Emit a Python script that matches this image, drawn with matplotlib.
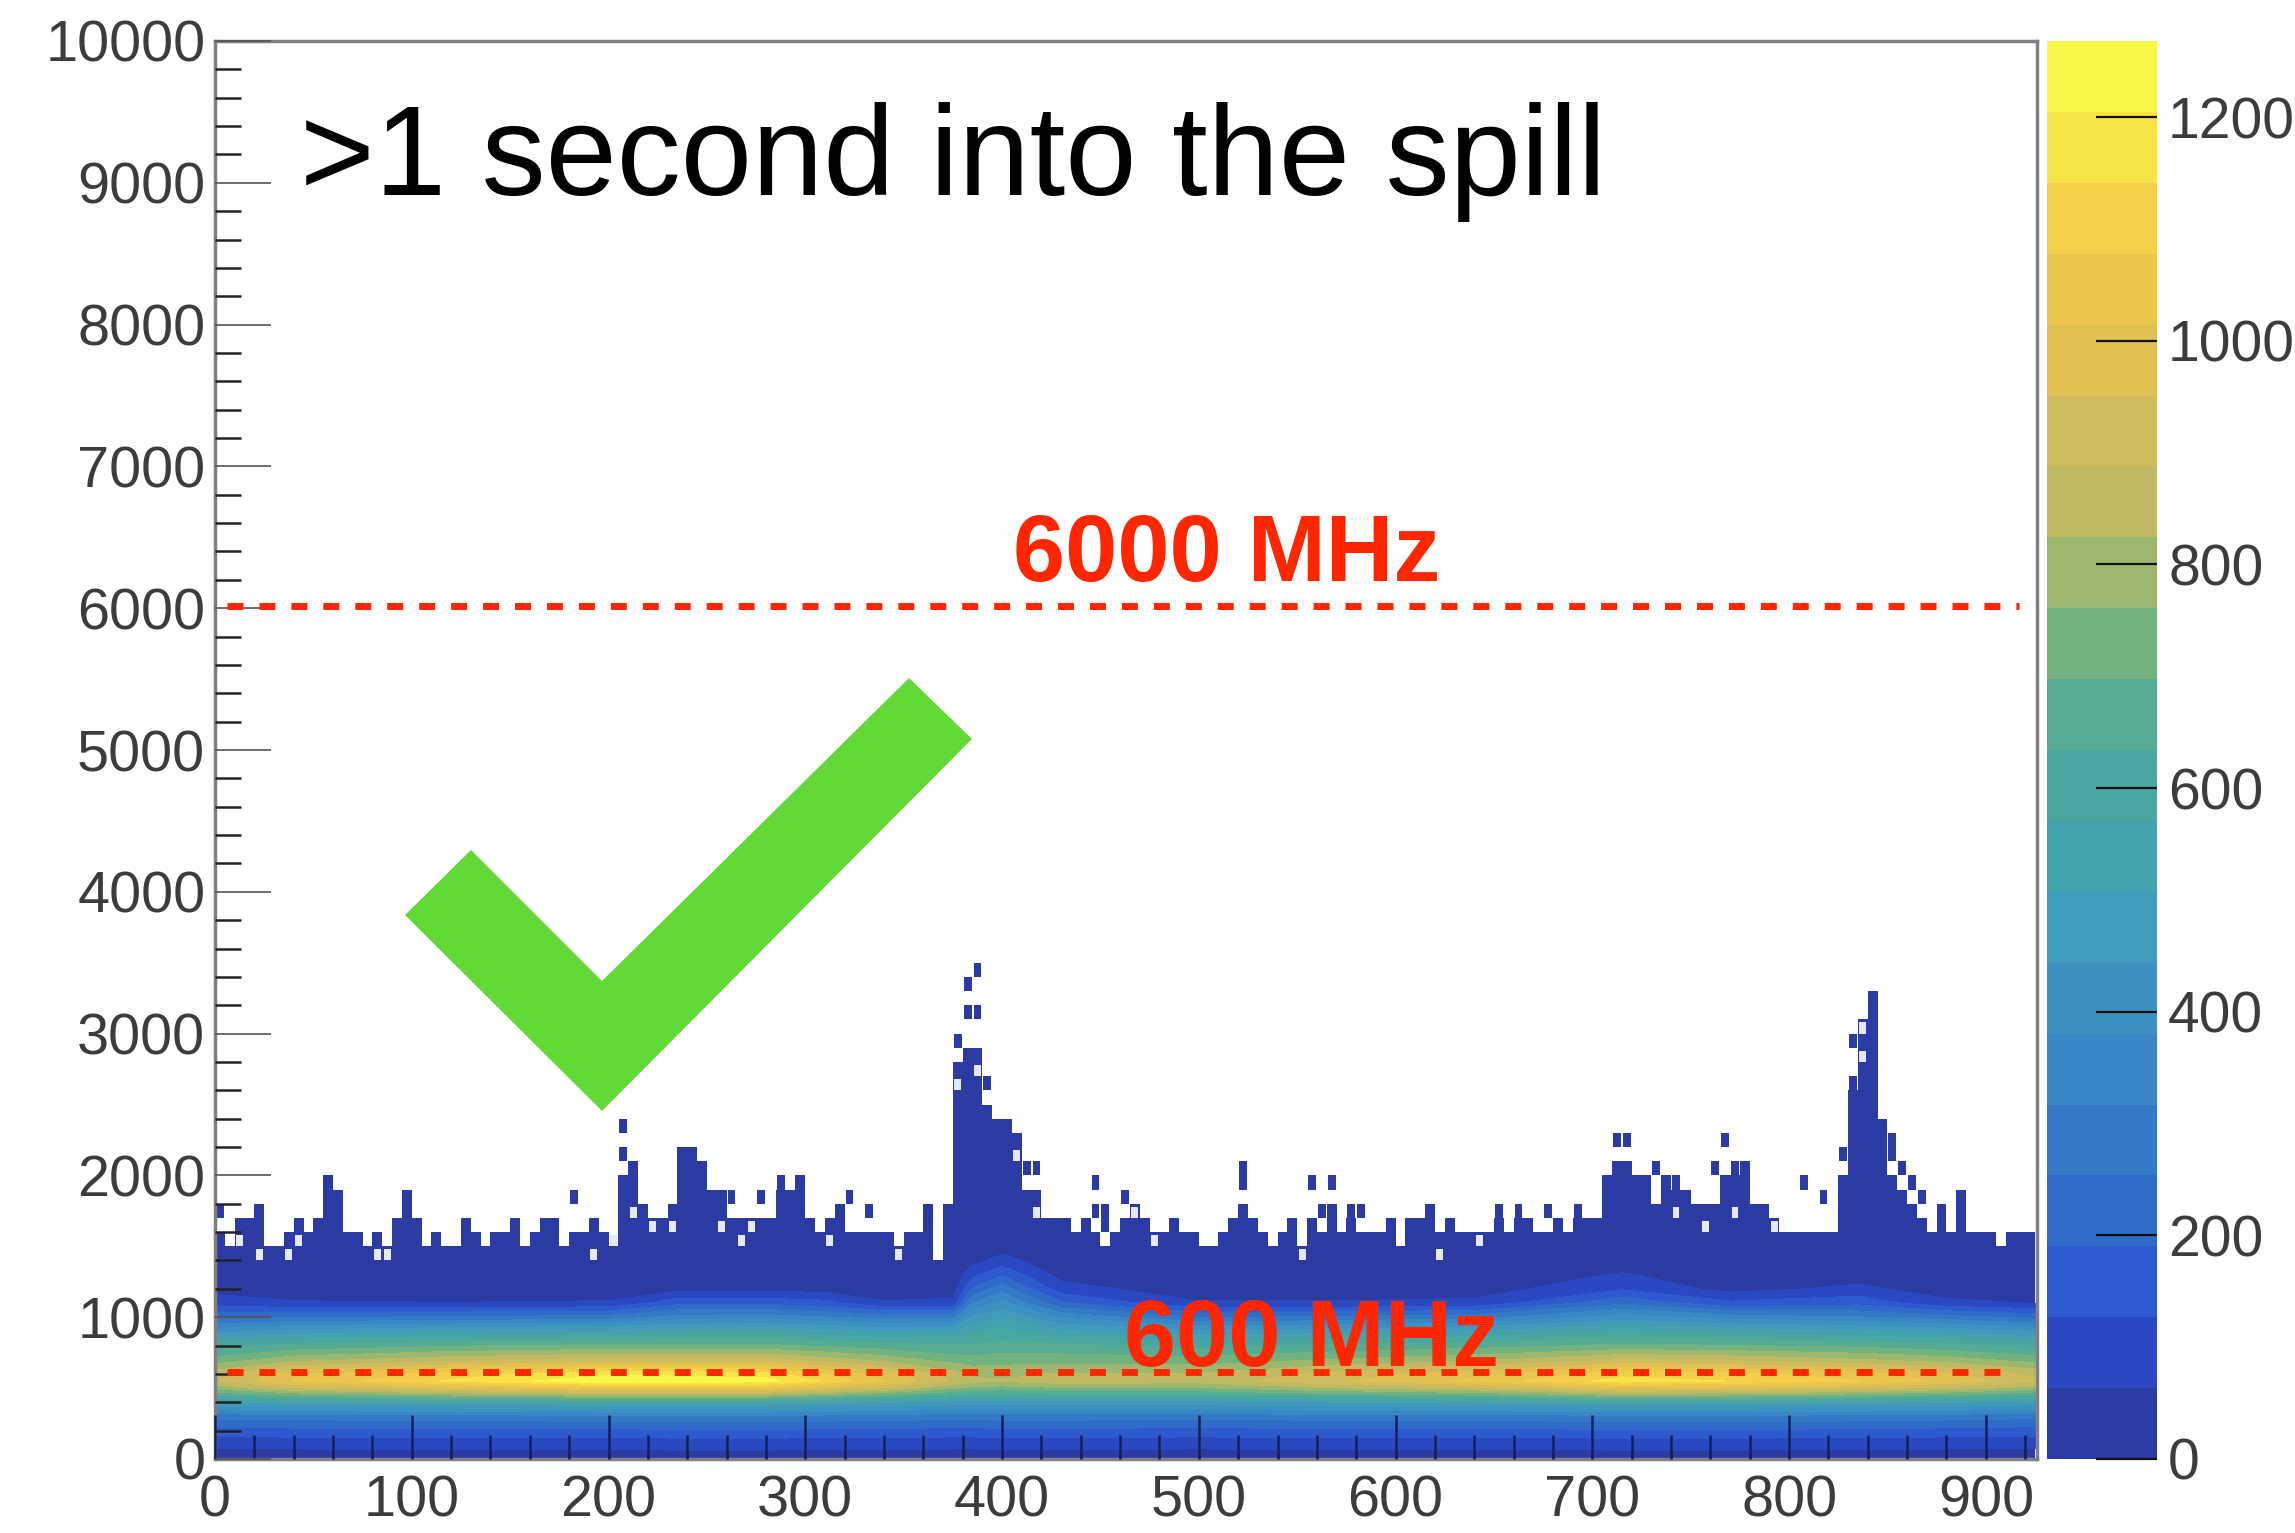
import numpy as np
import matplotlib
matplotlib.use("Agg")
import matplotlib.pyplot as plt
from matplotlib.cm import ScalarMappable
from matplotlib.colors import BoundaryNorm, ListedColormap
from matplotlib.patches import Polygon
from matplotlib.ticker import MultipleLocator

plt.rcParams["font.family"] = ["Liberation Sans", "DejaVu Sans"]

# ===== DATA =====
BIN_W = 5
ROW_H = 100

# top of the filled histogram in each 5-wide column, in rows of 100
column_tops = [
    16, 15, 17, 17, 18, 15, 15, 16, 17, 16, 17, 20, 19, 16, 16, 15, 16, 15, 17, 19,
    17, 15, 16, 15, 15, 17, 16, 15, 16, 16, 17, 15, 16, 17, 17, 15, 16, 16, 17, 16,
    15, 20, 21, 18, 17, 17, 18, 22, 22, 21, 19, 19, 17, 17, 17, 17, 17, 19, 19, 20,
    17, 16, 17, 18, 16, 16, 16, 16, 16, 15, 16, 16, 18, 14, 18, 28, 29, 29, 25, 24,
    24, 23, 19, 19, 17, 17, 17, 16, 17, 16, 15, 16, 17, 18, 17, 16, 16, 17, 16, 16,
    15, 15, 16, 17, 18, 17, 16, 15, 16, 17, 15, 17, 16, 18, 16, 17, 16, 16, 16, 17,
    15, 17, 17, 18, 16, 17, 16, 16, 16, 16, 17, 16, 17, 17, 16, 16, 17, 16, 17, 17,
    17, 20, 21, 21, 20, 20, 18, 20, 19, 19, 18, 18, 18, 20, 20, 21, 18, 18, 17, 16,
    16, 16, 16, 16, 16, 20, 26, 31, 33, 24, 20, 19, 18, 17, 16, 18, 16, 19, 16, 16,
    16, 15, 16, 16, 16,
]

# lone filled cells above the tops (column index, row)
speck_cols = [0, 36, 41, 41, 52, 55, 57, 64, 66, 75, 76, 76, 77, 77, 78, 82, 83, 89, 89,
              90, 90, 92, 104, 104, 111, 112, 113, 115, 116, 130, 132, 135, 138,
              142, 143, 146, 148, 152, 153, 154, 161, 163, 165, 166, 166, 168,
              170, 170, 171, 172, 173]
speck_rows = [17, 18, 21, 23, 18, 18, 19, 18, 17, 29, 31, 33, 31, 34, 26, 20, 20, 17, 19,
              16, 17, 18, 19, 20, 19, 17, 19, 17, 17, 17, 17, 17, 17,
              22, 22, 20, 19, 20, 22, 20, 19, 18, 21, 26, 29, 32,
              21, 22, 20, 19, 18]

# empty cells inside the filled area (column index, row)
hole_cols = [2, 4, 7, 8, 16, 17, 38, 40, 42, 44, 46, 51, 53, 54, 62, 69, 75, 77, 81, 83,
             93, 95, 110, 124, 128, 148, 151, 154, 158, 167, 167]
hole_rows = [15, 14, 14, 15, 14, 14, 14, 15, 17, 16, 16, 16, 15, 16, 15, 14, 26, 27, 21, 17,
             17, 15, 14, 14, 15, 17, 16, 17, 16, 28, 30]

# counts in the dense band: one row per y station, one value per x station
heat_x = [0, 40, 120, 200, 235, 280, 310, 340, 375, 385, 400, 430, 500, 560, 640, 715, 770, 835, 880, 926]
heat_y = [0, 100, 200, 300, 400, 500, 550, 600, 700, 800, 900, 1000, 1100, 1200, 1300, 1400, 1500]
heat_counts = [
    [35, 35, 35, 35, 35, 35, 35, 35, 35, 35, 35, 35, 35, 35, 35, 35, 35, 35, 35, 35],
    [75, 75, 78, 78, 80, 80, 78, 78, 75, 75, 78, 78, 75, 78, 78, 80, 80, 78, 75, 72],
    [165, 170, 172, 175, 178, 180, 175, 172, 168, 168, 172, 172, 168, 172, 172, 180, 180, 175, 168, 160],
    [275, 280, 285, 295, 298, 300, 292, 285, 278, 278, 282, 282, 278, 282, 285, 295, 295, 290, 282, 270],
    [500, 530, 550, 570, 568, 560, 535, 510, 480, 470, 470, 480, 480, 500, 520, 560, 550, 530, 510, 480],
    [780, 880, 960, 1030, 1030, 1020, 950, 880, 770, 740, 730, 750, 750, 810, 870, 980, 960, 920, 860, 790],
    [880, 1020, 1150, 1255, 1250, 1230, 1130, 1020, 880, 840, 830, 860, 850, 930, 1030, 1170, 1140, 1080, 1000, 900],
    [860, 1000, 1110, 1190, 1185, 1170, 1080, 980, 850, 810, 810, 830, 830, 900, 990, 1120, 1100, 1040, 960, 870],
    [720, 800, 860, 900, 900, 900, 850, 800, 730, 720, 730, 730, 720, 760, 810, 890, 870, 830, 790, 730],
    [610, 650, 690, 710, 710, 710, 685, 660, 640, 640, 660, 650, 610, 640, 670, 710, 700, 680, 650, 610],
    [420, 470, 510, 530, 550, 560, 530, 500, 510, 560, 590, 520, 460, 480, 510, 580, 550, 520, 490, 440],
    [230, 250, 260, 280, 340, 350, 320, 290, 300, 450, 500, 370, 250, 260, 290, 410, 350, 320, 280, 230],
    [100, 70, 65, 70, 170, 170, 150, 70, 80, 320, 400, 200, 70, 70, 80, 240, 140, 170, 80, 60],
    [40, 30, 30, 30, 40, 40, 35, 30, 30, 200, 290, 90, 25, 25, 30, 120, 40, 80, 30, 25],
    [15, 15, 15, 15, 15, 15, 15, 15, 15, 110, 180, 40, 15, 15, 15, 70, 20, 30, 15, 15],
    [5, 5, 5, 5, 5, 5, 5, 5, 5, 40, 90, 15, 5, 5, 5, 20, 5, 10, 5, 5],
    [5, 5, 5, 5, 5, 5, 5, 5, 5, 10, 30, 5, 5, 5, 5, 5, 5, 5, 5, 5],
]

x_max = 926
y_max = 10000
z_max = 1268
n_levels = 20

limit_values = [6015, 616]
limit_spans = [(6, 917), (6, 913)]

# the palette strip, bottom to top
band_colors = [
    "#2B3BA3", "#2A49C0", "#2D5BCE", "#2F6BC9", "#3379C6",
    "#3A87C6", "#3C90C2", "#3F9ABC", "#44A2AE", "#4AA7A0",
    "#56AC92", "#72B27E", "#9CB86E", "#BEB962", "#D0BC5C",
    "#DFC050", "#EAC64C", "#F3D048", "#F6E345", "#F7F748",
]

# check mark outline, in pixels of the 2295x1533 picture
check_px = [(909, 678), (972, 739), (602, 1111), (405, 915), (471, 850), (602, 981)]

W, H = 2295, 1533
RED = "#FF2600"
GREEN = "#62D936"
DARK = band_colors[0]
LABEL = "#3C3C3C"
FRAME = "#808080"

# ===== LAYOUT =====
fig = plt.figure(figsize=(W / 100, H / 100), dpi=100, facecolor="white")
ax = fig.add_axes([215 / W, 1 - 1459 / H, (2037 - 215) / W, (1459 - 41) / H])
cax = fig.add_axes([2047 / W, 1 - 1459 / H, (2157 - 2047) / W, (1459 - 41) / H])

# ===== HISTOGRAM =====
edges = np.arange(len(column_tops) + 1) * BIN_W
ax.stairs(np.array(column_tops) * ROW_H, edges, baseline=0, fill=True, color=DARK, zorder=0.5)

ax.bar((np.array(speck_cols) + 0.5) * BIN_W, ROW_H, width=BIN_W * 0.8,
       bottom=np.array(speck_rows) * ROW_H, color=DARK, linewidth=0, zorder=0.6)
ax.bar((np.array(hole_cols) + 0.5) * BIN_W, ROW_H * 0.8, width=BIN_W * 0.7,
       bottom=np.array(hole_rows) * ROW_H, color="#E4E9FA", linewidth=0, zorder=0.7)

levels = np.linspace(0, z_max, n_levels + 1)
ax.contourf(heat_x, heat_y, np.array(heat_counts), levels=levels[1:],
            colors=band_colors[1:], zorder=1)

# ===== LIMIT LINES =====
for value, (x0, x1) in zip(limit_values, limit_spans):
    ax.plot([x0, x1], [value, value], color=RED, lw=5, linestyle=(0, (2.3, 2.3)),
            dash_capstyle="butt", zorder=3)

ax.text(514, 6195, "6000 MHz", color=RED, fontsize=67.5, fontweight="bold",
        ha="center", va="baseline", zorder=4)
ax.text(462, 654, "600 MHz", color=RED, fontsize=67.5, fontweight="bold",
        ha="left", va="baseline", zorder=4)

# ===== ANNOTATIONS =====
fig.text(300 / W, 1 - 195 / H, ">1 second into the spill", color="black",
         fontsize=92.2, ha="left", va="baseline")
check_fig = [(x / W, 1 - y / H) for x, y in check_px]
ax.add_patch(Polygon(check_fig, closed=True, transform=fig.transFigure, facecolor=GREEN,
                     edgecolor="none", clip_on=False, zorder=5))

# ===== AXES =====
ax.set_xlim(0, x_max)
ax.set_ylim(0, y_max)
ax.set_axisbelow(False)
ax.xaxis.set_major_locator(MultipleLocator(100))
ax.xaxis.set_minor_locator(MultipleLocator(20))
ax.yaxis.set_major_locator(MultipleLocator(1000))
ax.yaxis.set_minor_locator(MultipleLocator(200))
ax.tick_params(axis="x", which="major", direction="in", length=32, width=1.8,
               color="#10205A", labelsize=41.5, labelcolor=LABEL, pad=11)
ax.tick_params(axis="x", which="minor", direction="in", length=17, width=1.8, color="#10205A")
ax.tick_params(axis="y", which="major", direction="in", length=40, width=1.2,
               color="#555555", labelsize=41.5, labelcolor=LABEL, pad=7)
ax.tick_params(axis="y", which="minor", direction="in", length=19, width=1.8, color="#222222")
for spine in ax.spines.values():
    spine.set_color(FRAME)
    spine.set_linewidth(2.5)

# ===== COLOUR STRIP =====
norm = BoundaryNorm(levels, n_levels)
cbar = fig.colorbar(ScalarMappable(norm=norm, cmap=ListedColormap(band_colors)), cax=cax,
                    spacing="proportional", drawedges=False)
cbar.outline.set_visible(False)
cbar.set_ticks(np.arange(0, 1201, 200))
cbar.minorticks_off()
cax.tick_params(axis="y", direction="in", length=44, width=1.6, color="#111111",
                labelsize=41, labelcolor=LABEL, pad=8, right=True, left=False)

fig.savefig("out.png", dpi=100)
